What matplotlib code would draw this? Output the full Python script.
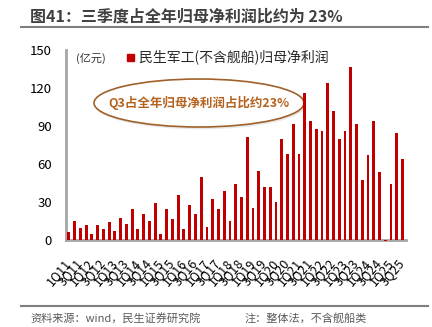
import matplotlib
matplotlib.use("Agg")
import matplotlib.pyplot as plt
from matplotlib.patches import Ellipse, Rectangle
from matplotlib.lines import Line2D
import numpy as np

plt.rcParams['font.family'] = ['Noto Sans CJK SC', 'DejaVu Sans']

# Quarterly attributable net profit (100 million CNY), 1Q11 - 3Q25
years = list(range(2011, 2026))
quarters = [f"{q}Q{str(y)[2:]}" for y in years for q in (1, 2, 3, 4)][:59]
profit = [
    6.3, 14.7, 9.2, 11.8,
    5.0, 11.6, 8.9, 14.0,
    7.4, 17.4, 12.4, 24.5,
    8.7, 20.5, 15.0, 29.2,
    5.0, 24.5, 16.3, 35.5,
    8.4, 27.4, 20.5, 49.7,
    10.5, 32.6, 24.2, 39.0,
    14.7, 44.0, 34.0, 81.6,
    25.0, 54.2, 41.6, 41.8,
    30.3, 80.0, 67.6, 91.3,
    68.2, 115.8, 94.0, 87.4,
    85.8, 124.2, 101.8, 80.0,
    85.8, 136.3, 91.3, 47.4,
    67.1, 93.7, 53.4, -1.0,
    44.0, 84.5, 64.2,
]
yticks = [0, 30, 60, 90, 120, 150]
series_name = "民生军工(不含舰船)归母净利润"
title = "图41：三季度占全年归母净利润比约为 23%"
note_text = "Q3占全年归母净利润占比约23%"
unit = "(亿元)"
source = "资料来源：wind，民生证券研究院"
remark = "注：整体法，不含舰船类"

W, H = 432, 327
fig = plt.figure(figsize=(W / 100, H / 100), dpi=100)
ax = fig.add_axes([66 / W, 1 - 240 / H, (406 - 66) / W, (240 - 50) / H])

bar_color = '#C00000'
x = np.arange(len(profit))
bars = ax.bar(x, profit, width=0.5, color=bar_color, zorder=3)
for b in bars:
    b.set_clip_on(False)

ax.set_xlim(-0.5, len(profit) - 0.4)
ax.set_ylim(0, 150)
ax.set_yticks(yticks)
ax.set_yticklabels([str(v) for v in yticks], fontsize=9.5)
ax.set_xticks(x[::2])
ax.set_xticklabels(quarters[::2], rotation=50, ha='right', va='center',
                   rotation_mode='anchor', fontsize=9)
ax.tick_params(axis='both', length=0)
ax.tick_params(axis='y', pad=10)
ax.tick_params(axis='x', pad=15)

for s in ('top', 'right'):
    ax.spines[s].set_visible(False)
for s in ('left', 'bottom'):
    ax.spines[s].set_color('#A6A6A6')
    ax.spines[s].set_linewidth(2)
    ax.spines[s].set_zorder(2)

# unit label
ax.text(0.03, 0.985, unit, transform=ax.transAxes, fontsize=8,
        ha='left', va='top', color='#333333')

# legend drawn by hand
fig.patches.append(Rectangle((127 / W, 1 - 61 / H), 7 / W, 7 / H,
                             transform=fig.transFigure, color=bar_color))
fig.text(139 / W, 1 - 57 / H, series_name, fontsize=10, ha='left',
         va='center', color='#262626')

# callout ellipse
cx, cy = (199 - 66) / (406 - 66), (240 - 103) / 190
ew, eh = 210 / (406 - 66), 48 / 190
shadow = Ellipse((cx + 0.004, cy - 0.012), ew, eh, transform=ax.transAxes,
                 facecolor='#D9D9D9', edgecolor='none', alpha=0.6, zorder=1)
ell = Ellipse((cx, cy), ew, eh, transform=ax.transAxes, facecolor='white',
              edgecolor='#A0612A', linewidth=1.2, zorder=2)
ax.add_patch(shadow)
ax.add_patch(ell)
ax.text(cx, cy, note_text, transform=ax.transAxes, fontsize=9,
        fontweight='bold', color='#B5621E', ha='center', va='center', zorder=4)

# header and footer
fig.text(30 / W, 1 - 17 / H, title, fontsize=11.5, fontweight='bold',
         color='#404040', ha='left', va='center')
fig.add_artist(Line2D([21 / W, 428 / W], [1 - 27 / H, 1 - 27 / H],
                      transform=fig.transFigure, color='#7F7F7F', lw=1.5))
fig.add_artist(Line2D([21 / W, 428 / W], [1 - 306 / H, 1 - 306 / H],
                      transform=fig.transFigure, color='#7F7F7F', lw=1.5))
fig.text(30 / W, 1 - 318 / H, source, fontsize=8, color='#595959',
         ha='left', va='center')
fig.text(245 / W, 1 - 318 / H, remark, fontsize=8, color='#595959',
         ha='left', va='center')

fig.savefig('out.png', dpi=100)
